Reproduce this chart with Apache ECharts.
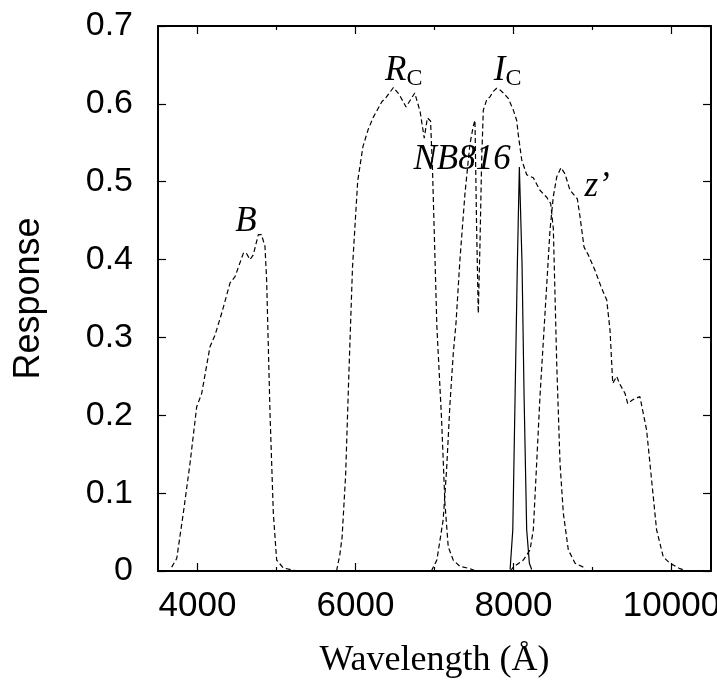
<!DOCTYPE html>
<html>
<head>
<meta charset="utf-8">
<script src="https://cdn.jsdelivr.net/npm/echarts@6/dist/echarts.min.js"></script>
<style>
  html, body { margin: 0; padding: 0; background: #fff; }
  #chart { width: 717px; height: 685px; }
</style>
</head>
<body>
<div id="chart"></div>
<script>
// ---- Data (wavelength in Å, response) ----
const wlB   = [3673, 3737, 3820, 3905, 3990, 4053, 4158, 4222, 4306, 4412, 4475, 4580, 4613, 4665, 4706, 4770, 4810, 4854, 4875, 4918, 4960, 5002, 5086, 5210, 5300];
const respB = [0.005, 0.016, 0.074, 0.138, 0.211, 0.228, 0.288, 0.303, 0.331, 0.370, 0.378, 0.408, 0.409, 0.400, 0.406, 0.432, 0.432, 0.417, 0.374, 0.202, 0.074, 0.014, 0.004, 0.001, 0.000];

const wlRc   = [5760, 5800, 5830, 5875, 5917, 5962, 6028, 6094, 6160, 6226, 6335, 6379, 6480, 6554, 6640, 6695, 6750, 6818, 6870, 6910, 6950, 6975, 6995, 7030, 7090, 7132, 7174, 7237, 7322, 7450, 7520];
const respRc = [0.000, 0.020, 0.043, 0.123, 0.256, 0.390, 0.501, 0.545, 0.567, 0.583, 0.603, 0.607, 0.621, 0.612, 0.596, 0.605, 0.614, 0.590, 0.556, 0.582, 0.578, 0.515, 0.442, 0.314, 0.194, 0.087, 0.031, 0.014, 0.006, 0.003, 0.000];

const wlIc   = [6960, 7030, 7110, 7153, 7196, 7238, 7272, 7322, 7386, 7428, 7450, 7490, 7512, 7533, 7554, 7576, 7597, 7618, 7660, 7702, 7744, 7787, 7829, 7871, 7934, 7998, 8040, 8061, 8104, 8167, 8251, 8335, 8420, 8471, 8504, 8526, 8547, 8589, 8631, 8694, 8779, 8884, 8900];
const respIc = [0.000, 0.014, 0.066, 0.130, 0.215, 0.280, 0.318, 0.400, 0.485, 0.528, 0.549, 0.571, 0.579, 0.442, 0.331, 0.421, 0.528, 0.592, 0.605, 0.609, 0.616, 0.620, 0.618, 0.614, 0.607, 0.592, 0.579, 0.560, 0.528, 0.509, 0.505, 0.489, 0.480, 0.472, 0.440, 0.352, 0.267, 0.138, 0.074, 0.027, 0.010, 0.005, 0.000];

const wlNB   = [7957, 7991, 8020, 8049, 8074, 8092, 8108, 8134, 8167, 8201, 8230];
const respNB = [0.002, 0.053, 0.224, 0.395, 0.519, 0.519, 0.395, 0.224, 0.053, 0.010, 0.002];

const wlZ   = [7960, 7998, 8124, 8209, 8251, 8293, 8335, 8399, 8462, 8504, 8547, 8601, 8652, 8715, 8808, 8842, 8893, 8947, 9032, 9116, 9180, 9222, 9256, 9307, 9340, 9412, 9446, 9509, 9600, 9685, 9748, 9811, 9896, 9980, 10107, 10200];
const respZ = [0.000, 0.005, 0.014, 0.027, 0.053, 0.138, 0.224, 0.331, 0.438, 0.481, 0.506, 0.518, 0.510, 0.489, 0.478, 0.455, 0.416, 0.406, 0.386, 0.363, 0.348, 0.309, 0.241, 0.250, 0.241, 0.228, 0.215, 0.220, 0.224, 0.181, 0.117, 0.053, 0.018, 0.010, 0.003, 0.000];

// Filter name annotations (text, anchor wavelength, anchor response)
const labelTexts = ['{i|B}', '{i|R}{s|C}', '{i|I}{s|C}', '{i|NB816}', '{i|z’}'];
const labelWl    = [4614, 6610, 7925, 7349, 9058];
const labelResp  = [0.448, 0.643, 0.643, 0.528, 0.493];

// Axis ticks
const xMajorTicks = [4000, 6000, 8000, 10000];
const xMinorTicks = [5000, 7000, 9000];

const pairs = (xs, ys) => xs.map((x, i) => [x, ys[i]]);

const dashed = { color: '#000', width: 1.2, type: [5, 3] };
const solid  = { color: '#000', width: 1.2, type: 'solid' };

function lineSeries(name, xs, ys, style) {
  return {
    name, type: 'line', data: pairs(xs, ys), showSymbol: false, symbol: 'none',
    lineStyle: style, xAxisIndex: 0, yAxisIndex: 0, silent: true, z: 3
  };
}

const chart = echarts.init(document.getElementById('chart'), null, { renderer: 'canvas' });

const baseX = { type: 'value', min: 3500, max: 10500, splitLine: { show: false } };
const axisLineStyle = { show: true, lineStyle: { color: '#000', width: 2 } };
const serif = 'Liberation Serif, Times New Roman, serif';
const sans = 'Liberation Sans, Arial, sans-serif';

const option = {
  animation: false,
  backgroundColor: '#fff',
  grid: { left: 158, right: 6, top: 26, bottom: 114, containLabel: false, outerBoundsMode: 'none' },
  xAxis: [
    Object.assign({}, baseX, {
      position: 'bottom',
      axisLine: axisLineStyle,
      axisTick: { show: true, inside: true, length: 8, customValues: xMajorTicks, lineStyle: { color: '#000', width: 1.2 } },
      axisLabel: { show: true, customValues: xMajorTicks, color: '#000', fontSize: 35, fontFamily: sans, margin: 18,
                   formatter: v => String(v) },
      name: 'Wavelength (Å)', nameLocation: 'middle', nameGap: 72,
      nameTextStyle: { color: '#000', fontSize: 36, fontFamily: serif }
    }),
    Object.assign({}, baseX, {
      position: 'bottom',
      axisLine: { show: false },
      axisTick: { show: true, inside: true, length: 4, customValues: xMinorTicks, lineStyle: { color: '#000', width: 1.2 } },
      axisLabel: { show: false }
    }),
    Object.assign({}, baseX, {
      position: 'top',
      axisLine: axisLineStyle,
      axisTick: { show: true, inside: true, length: 8, customValues: xMajorTicks, lineStyle: { color: '#000', width: 1.2 } },
      axisLabel: { show: false }
    }),
    Object.assign({}, baseX, {
      position: 'top',
      axisLine: { show: false },
      axisTick: { show: true, inside: true, length: 4, customValues: xMinorTicks, lineStyle: { color: '#000', width: 1.2 } },
      axisLabel: { show: false }
    })
  ],
  yAxis: [
    {
      type: 'value', min: 0, max: 0.7, interval: 0.1, position: 'left',
      splitLine: { show: false },
      axisLine: axisLineStyle,
      axisTick: { show: true, inside: true, length: 8, lineStyle: { color: '#000', width: 1.2 } },
      axisLabel: { color: '#000', fontSize: 34, fontFamily: sans, margin: 25,
                   formatter: v => String(+v.toFixed(1)) },
      name: 'Response', nameLocation: 'middle', nameGap: 111, nameRotate: 90,
      nameTextStyle: { color: '#000', fontSize: 36, fontFamily: sans }
    },
    {
      type: 'value', min: 0, max: 0.7, interval: 0.1, position: 'right',
      splitLine: { show: false },
      axisLine: axisLineStyle,
      axisTick: { show: true, inside: true, length: 8, lineStyle: { color: '#000', width: 1.2 } },
      axisLabel: { show: false }
    }
  ],
  series: [
    lineSeries('B', wlB, respB, dashed),
    lineSeries('Rc', wlRc, respRc, dashed),
    lineSeries('Ic', wlIc, respIc, dashed),
    lineSeries('z', wlZ, respZ, dashed),
    lineSeries('NB816', wlNB, respNB, solid),
    {
      name: 'labels', type: 'scatter', xAxisIndex: 0, yAxisIndex: 0, silent: true, z: 5,
      symbolSize: 0, itemStyle: { color: '#000', opacity: 1 },
      data: labelWl.map((x, i) => ({ value: [x, labelResp[i]] })),
      label: {
        show: true, position: 'inside', color: '#000', opacity: 1, textBorderWidth: 0,
        formatter: p => labelTexts[p.dataIndex],
        rich: {
          i: { fontFamily: serif, fontStyle: 'italic', fontSize: 35, color: '#000', opacity: 1, lineHeight: 40, verticalAlign: 'middle', textBorderWidth: 0 },
          s: { fontFamily: serif, fontSize: 24, color: '#000', opacity: 1, lineHeight: 40, verticalAlign: 'bottom', padding: [14, 0, 0, 0], textBorderWidth: 0 }
        }
      }
    }
  ]
};

chart.setOption(option);
</script>
</body>
</html>
